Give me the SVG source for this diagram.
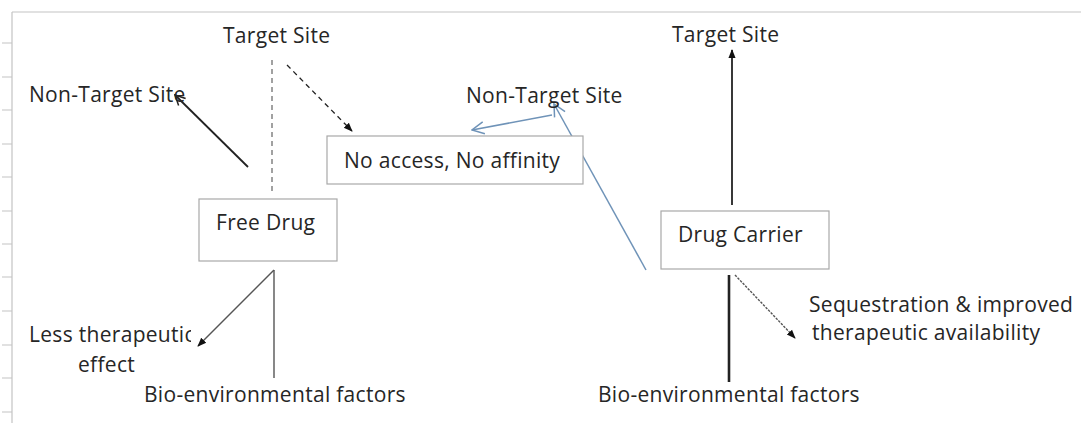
<svg xmlns="http://www.w3.org/2000/svg" width="1081" height="423" viewBox="0 0 1081 423">
<style>
text{font-family:"Open Sans","Noto Sans","Liberation Sans",sans-serif;font-size:21px;letter-spacing:0.3px;fill:#262626}
.box{fill:#fff;stroke:#a8a8a8;stroke-width:1.2}
.grid{stroke:#c4c4c4;stroke-width:1.2;fill:none}
.k{stroke:#222;fill:none}
.g{stroke:#555;fill:none}
.b{stroke:#6f93b8;fill:none;stroke-width:1.5}
</style>
<defs>
<marker id="openK" viewBox="0 0 12 12" refX="11" refY="6" markerWidth="12" markerHeight="12" markerUnits="userSpaceOnUse" orient="auto"><path d="M1,1 L11,6 L1,11" fill="none" stroke="#222" stroke-width="1.5"/></marker>
<marker id="openB" viewBox="0 0 14 14" refX="13" refY="7" markerWidth="14" markerHeight="14" markerUnits="userSpaceOnUse" orient="auto"><path d="M1,1 L13,7 L1,13" fill="none" stroke="#6f93b8" stroke-width="1.5"/></marker>
<marker id="fill" viewBox="0 0 10 10" refX="9" refY="5" markerWidth="9" markerHeight="9" markerUnits="userSpaceOnUse" orient="auto"><path d="M0,1 L10,5 L0,9 Z" fill="#111"/></marker>
<clipPath id="clipLess"><rect x="0" y="300" width="191" height="60"/></clipPath>
</defs>
<rect width="1081" height="423" fill="#fff"/>
<g id="sheet">
<path class="grid" d="M12,12 H1081 M12,12 V423"/>
<path class="grid" d="M2,43 H12 M2,77 H12 M2,110 H12 M2,144 H12 M2,177 H12 M2,211 H12 M2,244 H12 M2,277 H12 M2,311 H12 M2,345 H12 M2,378 H12 M2,412 H12"/>
</g>
<g id="connectors">
<line class="k" x1="248" y1="167" x2="175" y2="95" stroke-width="1.8" marker-end="url(#openK)"/>
<line class="g" x1="272" y1="60" x2="272" y2="192" stroke-width="1.1" stroke="#777" stroke-dasharray="5,4"/>
<line class="k" x1="287" y1="65" x2="352" y2="131" stroke-width="1.3" stroke-dasharray="5,4" marker-end="url(#fill)"/>
<line class="b" x1="552" y1="115" x2="472" y2="130" marker-end="url(#openB)"/>
<line class="b" x1="646" y1="270" x2="554" y2="104" marker-end="url(#openB)"/>
<line class="g" x1="274" y1="270" x2="274" y2="378" stroke-width="1.4"/>
<line class="g" x1="274" y1="270" x2="198" y2="346" stroke-width="1.4" marker-end="url(#fill)"/>
<line class="k" x1="732" y1="205" x2="732" y2="50" stroke-width="1.8" marker-end="url(#fill)"/>
<line class="k" x1="729" y1="275" x2="729" y2="382" stroke-width="2.6" stroke="#444"/>
<line class="g" x1="735" y1="275" x2="795" y2="338" stroke-width="1.4" stroke-dasharray="2.5,1.2" marker-end="url(#fill)"/>
</g>
<g id="target-site-left"><text x="223" y="43">Target Site</text></g>
<g id="non-target-site-left"><text x="29" y="102">Non-Target Site</text></g>
<g id="no-access"><rect class="box" x="327" y="136" width="256" height="48"/><text x="344" y="168">No access, No affinity</text></g>
<g id="non-target-site-mid"><text x="466" y="103">Non-Target Site</text></g>
<g id="free-drug"><rect class="box" x="199" y="199" width="138" height="62"/><text x="216" y="230">Free Drug</text></g>
<g id="less-therapeutic"><text x="29" y="342" clip-path="url(#clipLess)">Less therapeutic</text><text x="78" y="372">effect</text></g>
<g id="bio-left"><text x="144" y="402">Bio-environmental factors</text></g>
<g id="target-site-right"><text x="672" y="42">Target Site</text></g>
<g id="drug-carrier"><rect class="box" x="661" y="211" width="168" height="58"/><text x="678" y="242">Drug Carrier</text></g>
<g id="sequestration"><text x="809" y="312">Sequestration &amp; improved</text><text x="812" y="340">therapeutic availability</text></g>
<g id="bio-right"><text x="598" y="402">Bio-environmental factors</text></g>
</svg>
